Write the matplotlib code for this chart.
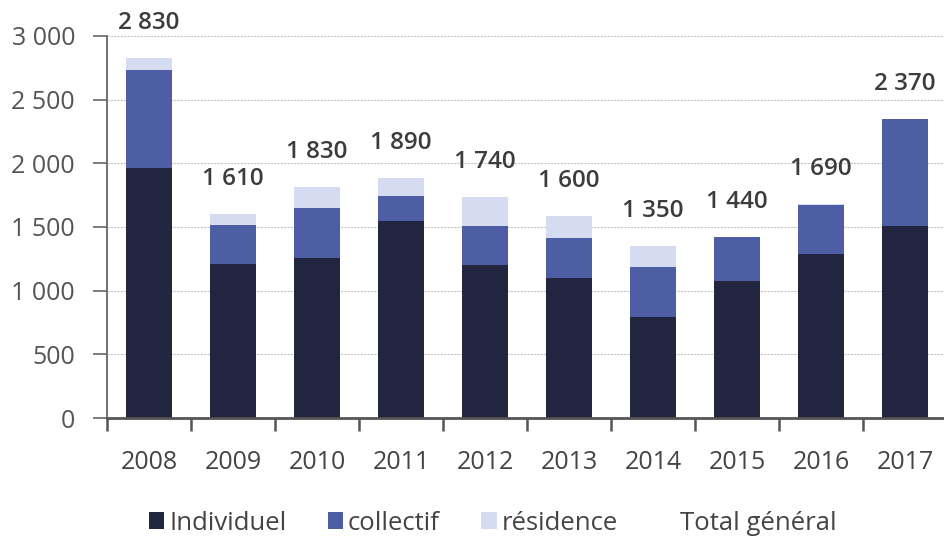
import matplotlib
matplotlib.use("Agg")
import matplotlib.pyplot as plt
from matplotlib.patches import Patch
import numpy as np

years = ["2008", "2009", "2010", "2011", "2012", "2013", "2014", "2015", "2016", "2017"]
individuel = [1960, 1210, 1255, 1550, 1200, 1100, 790, 1075, 1285, 1505]
collectif = [770, 305, 395, 195, 305, 310, 395, 345, 390, 840]
residence = [100, 90, 165, 140, 230, 180, 165, 5, 5, 5]
total_general = [2830, 1610, 1830, 1890, 1740, 1600, 1350, 1440, 1690, 2370]
y_ticks = [0, 500, 1000, 1500, 2000, 2500, 3000]
series_names = ["Individuel", "collectif", "résidence", "Total général"]

c_ind = "#22253f"
c_col = "#4e5ea5"
c_res = "#d5dbf0"

plt.rcParams["font.family"] = ["Open Sans", "DejaVu Sans"]

fig = plt.figure(figsize=(9.44, 5.37), dpi=100)
ax = fig.add_axes([107 / 944, 119 / 537, 840 / 944, 382 / 537])

x = np.arange(len(years))
w = 0.55
ind = np.array(individuel)
col = np.array(collectif)
res = np.array(residence)
ax.bar(x, ind, w, color=c_ind, zorder=3)
ax.bar(x, col, w, bottom=ind, color=c_col, zorder=3)
ax.bar(x, res, w, bottom=ind + col, color=c_res, zorder=3)

tops = ind + col + res
for xi, t, lab in zip(x, tops, total_general):
    s = f"{lab:,}".replace(",", " ")
    ax.annotate(s, (xi, t), xytext=(0, 25), textcoords="offset points",
                ha="center", va="center", fontsize=17.5, fontweight="semibold",
                color="#3c3c3c", annotation_clip=False)

ax.set_xlim(-0.5, len(years) - 0.5)
ax.set_ylim(0, 3000)
ax.set_yticks(y_ticks)
ax.set_yticklabels([f"{v:,}".replace(",", " ") for v in y_ticks])
ax.yaxis.grid(True, color="#c4c4c4", linestyle=(0, (2, 1)), linewidth=0.8, zorder=0)
ax.set_axisbelow(True)

ax.set_xticks(np.arange(-0.5, len(years), 1.0))
ax.set_xticklabels([])
ax.set_xticks(x, minor=True)
ax.set_xticklabels(years, minor=True)
ax.tick_params(axis="x", which="major", direction="out", length=9, width=1.8, color="#555555")
ax.tick_params(axis="x", which="minor", length=0, pad=23, labelsize=18, labelcolor="#444444")
ax.tick_params(axis="y", direction="out", length=10, width=1.2, color="#666666",
               pad=13, labelsize=18, labelcolor="#555555")

for s in ["top", "right"]:
    ax.spines[s].set_visible(False)
ax.spines["left"].set_color("#666666")
ax.spines["left"].set_linewidth(1.3)
ax.spines["bottom"].set_color("#555555")
ax.spines["bottom"].set_linewidth(2)
ax.spines["bottom"].set_zorder(4)

handles = [Patch(facecolor=c_ind), Patch(facecolor=c_col), Patch(facecolor=c_res),
           Patch(facecolor="none", edgecolor="none")]
fig.legend(handles, series_names, loc="center", bbox_to_anchor=(0.5217, 0.026),
           ncol=4, frameon=False, fontsize=18.5, handlelength=0.6, handleheight=0.6,
           handletextpad=0.2, columnspacing=1.6, borderpad=0, labelcolor="#444444")

fig.savefig("out.png", dpi=100)
